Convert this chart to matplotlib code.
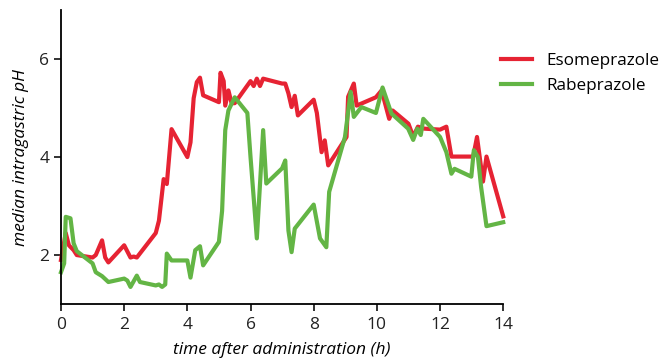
import matplotlib
matplotlib.use("Agg")
from matplotlib import pyplot as plt

# Esomeprazole (red)
eso_t = [0, 0.15, 0.25, 0.4, 0.5, 1.0, 1.1, 1.3, 1.4, 1.5, 2.0, 2.2, 2.3, 2.4, 3.0, 3.1, 3.25,
         3.35, 3.5, 4.0, 4.1, 4.2, 4.3, 4.4, 4.5, 5.0, 5.05, 5.15, 5.2, 5.3, 5.4, 5.5, 6.0, 6.1,
         6.2, 6.3, 6.4, 7.0, 7.1, 7.2, 7.3, 7.4, 7.5, 8.0, 8.1, 8.25, 8.35, 8.46, 9.04, 9.09,
         9.27, 9.36, 9.97, 10.15, 10.39, 10.5, 11.0, 11.15, 11.3, 11.5, 12.0, 12.2, 12.36,
         13.05, 13.17, 13.36, 13.47, 14.0]
eso_ph = [1.9, 2.45, 2.2, 2.1, 2.0, 1.95, 2.0, 2.3, 1.95, 1.85, 2.2, 1.95, 1.97, 1.95, 2.45, 2.7, 3.55,
          3.45, 4.57, 4.0, 4.3, 5.2, 5.53, 5.62, 5.26, 5.12, 5.72, 5.55, 5.05, 5.36, 5.1, 5.1, 5.55, 5.45,
          5.6, 5.45, 5.6, 5.5, 5.5, 5.3, 5.02, 5.25, 4.85, 5.17, 4.9, 4.1, 4.34, 3.83, 4.41, 5.23,
          5.5, 5.05, 5.22, 5.36, 4.78, 4.95, 4.68, 4.42, 4.62, 4.58, 4.56, 4.62, 4.01,
          4.01, 4.41, 3.5, 4.01, 2.79]

# Rabeprazole (green)
rab_t = [0, 0.1, 0.15, 0.3, 0.4, 0.5, 1.0, 1.1, 1.3, 1.5, 2.0, 2.1, 2.2, 2.4, 2.5, 3.0, 3.1, 3.2,
         3.3, 3.35, 3.5, 4.0, 4.1, 4.25, 4.4, 4.5, 5.0, 5.1, 5.2, 5.3, 5.5, 5.9, 6.0, 6.2, 6.4,
         6.5, 7.0, 7.1, 7.2, 7.3, 7.4, 8.0, 8.2, 8.4, 8.49, 8.99, 9.17, 9.27, 9.51, 9.97,
         10.18, 10.46, 10.99, 11.15, 11.28, 11.39, 11.47, 12.0, 12.2, 12.36, 12.46, 12.99,
         13.07, 13.2, 13.3, 13.47, 14.0]
rab_ph = [1.65, 1.83, 2.78, 2.75, 2.24, 2.08, 1.83, 1.65, 1.57, 1.45, 1.52, 1.48, 1.35, 1.58, 1.45, 1.38, 1.4, 1.35,
          1.4, 2.03, 1.89, 1.89, 1.54, 2.1, 2.18, 1.79, 2.27, 2.9, 4.55, 4.95, 5.22, 4.9, 4.0, 2.34, 4.55,
          3.46, 3.77, 3.93, 2.5, 2.06, 2.54, 3.03, 2.34, 2.16, 3.29, 4.41, 5.33, 4.82, 5.02, 4.9,
          5.42, 4.89, 4.58, 4.35, 4.58, 4.45, 4.78, 4.41, 4.1, 3.66, 3.76, 3.6,
          4.14, 4.0, 3.39, 2.59, 2.67]

plt.rcParams['font.family'] = ['Open Sans', 'DejaVu Sans']

fig = plt.figure(figsize=(6.63, 3.59), dpi=100)
ax = fig.add_axes([0.092, 0.153, 0.667, 0.819])

ax.plot(eso_t, eso_ph, color='#E62333', linewidth=3.0, label='Esomeprazole',
        solid_joinstyle='round', clip_on=False)
ax.plot(rab_t, rab_ph, color='#63B545', linewidth=3.0, label='Rabeprazole',
        solid_joinstyle='round', clip_on=False)

ax.set_xlim(0, 14)
ax.set_ylim(1, 7)
ax.set_xticks(range(0, 15, 2))
ax.set_yticks([2, 4, 6])
ax.spines['top'].set_visible(False)
ax.spines['right'].set_visible(False)
ax.spines['left'].set_linewidth(1.3)
ax.spines['bottom'].set_linewidth(1.3)
ax.tick_params(width=1.3, length=5, labelsize=12.5, colors='#222222')
ax.tick_params(axis='x', pad=4.5)
ax.set_xlabel('time after administration (h)', fontsize=12.5, style='italic', labelpad=6)
ax.set_ylabel('median intragastric pH', fontsize=12.5, style='italic', labelpad=7)

fig.legend(loc='upper left', bbox_to_anchor=(0.733, 0.895), frameon=False, fontsize=12.3,
           handlelength=1.8, handletextpad=0.85, labelspacing=0.5)

fig.savefig('out.png', dpi=100)
